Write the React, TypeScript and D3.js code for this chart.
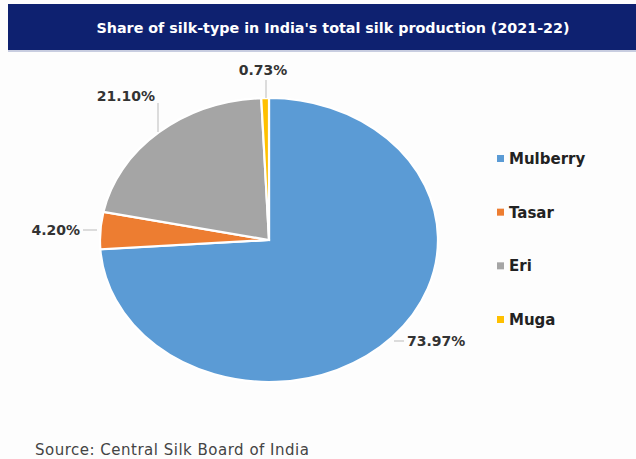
import React from "react";
import * as d3 from "d3";

const categories = ["Mulberry", "Tasar", "Eri", "Muga"];
const values = [73.97, 4.2, 21.1, 0.73];
const labels = ["73.97%", "4.20%", "21.10%", "0.73%"];
const colors = ["#5b9bd5", "#ed7d31", "#a5a5a5", "#ffc000"];

const W = 636, H = 459;
const cx = 269, cy = 240, rx = 169, ry = 142;
const FONT = "DejaVu Sans, Verdana, sans-serif";

const labelPos: Record<string, { x: number; y: number; anchor: string; line: [number, number, number, number] }> = {
  Mulberry: { x: 407, y: 346, anchor: "start", line: [394, 341, 404, 341] },
  Tasar: { x: 80, y: 235, anchor: "end", line: [83, 230, 97, 230] },
  Eri: { x: 155, y: 101, anchor: "end", line: [158, 103, 158, 132] },
  Muga: { x: 263, y: 75, anchor: "middle", line: [266, 80, 266, 98] },
};

export default function App() {
  const pie = d3.pie<number>().sort(null).value((d) => d);
  const arcs = pie(values);
  const arc = d3.arc<d3.PieArcDatum<number>>().innerRadius(0).outerRadius(1);
  const legendY = d3.scalePoint<string>().domain(categories).range([159, 320]);
  return (
    <svg width={W} height={H} style={{ position: "absolute", left: 0, top: 0, background: "#fff" }}>
      <rect x={0} y={0} width={W} height={H} fill="#fdfdfd" />
      <rect x={8} y={4} width={W - 8} height={46} fill="#0e2170" />
      <rect x={8} y={50} width={W - 8} height={2} fill="#c8cde0" />
      <text x={333} y={33} textAnchor="middle" fill="#fff" fontFamily={FONT} fontWeight="bold" fontSize={14.3}>
        Share of silk-type in India's total silk production (2021-22)
      </text>
      <g transform={`translate(${cx},${cy}) scale(${rx},${ry})`}>
        {arcs.map((a, i) => (
          <path key={i} d={arc(a) as string} fill={colors[i]} stroke="#fff" strokeWidth={2.2} vectorEffect="non-scaling-stroke" />
        ))}
      </g>
      {categories.map((c, i) => {
        const p = labelPos[c];
        return (
          <g key={c}>
            <line x1={p.line[0]} y1={p.line[1]} x2={p.line[2]} y2={p.line[3]} stroke="#bbb" strokeWidth={1} />
            <text x={p.x} y={p.y} textAnchor={p.anchor as any} fontFamily={FONT} fontWeight="bold" fontSize={14} fill="#333">
              {labels[i]}
            </text>
          </g>
        );
      })}
      {categories.map((c, i) => (
        <g key={"lg" + c} transform={`translate(497,${legendY(c)})`}>
          <rect x={0} y={-4} width={7} height={7} fill={colors[i]} />
          <text x={12} y={5} fontFamily={FONT} fontWeight="bold" fontSize={15} fill="#222">
            {c}
          </text>
        </g>
      ))}
      <text x={35} y={455} fontFamily={FONT} fontSize={15} letterSpacing={0.5} fill="#444">
        Source: Central Silk Board of India
      </text>
    </svg>
  );
}
